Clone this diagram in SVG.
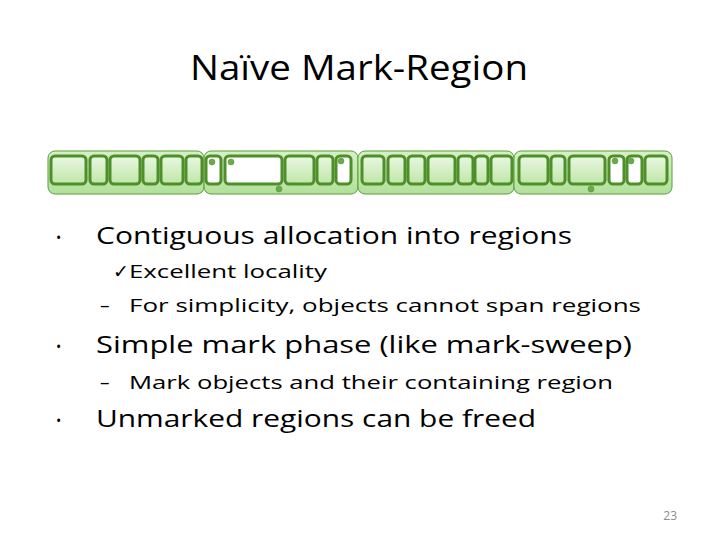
<svg xmlns="http://www.w3.org/2000/svg" width="720" height="540" viewBox="0 0 720 540">
<defs>
<linearGradient id="g" x1="0" y1="0" x2="0" y2="1"><stop offset="0" stop-color="#eaf7e2"/><stop offset="1" stop-color="#bfe6a8"/></linearGradient>
<linearGradient id="r" x1="0" y1="0" x2="0" y2="1"><stop offset="0" stop-color="#d6f0c6"/><stop offset="1" stop-color="#b2e09a"/></linearGradient>
</defs>
<style>
.reg{fill:url(#r);stroke:#5a9e3c;stroke-width:1}
.o{fill:url(#g);stroke:#4f8f2a;stroke-width:3}
.w{fill:#fff;stroke:#4f8f2a;stroke-width:3}
.d{fill:#6aaa4a;stroke:#4f8f2a;stroke-width:0.5}
text{font-family:"Open Sans","Liberation Sans",Arial,sans-serif;fill:#000}
.t1{font-size:24px}.t2{font-size:19px}
.b{font-size:14px}
</style>
<rect width="720" height="540" fill="#fff"/>
<text x="190" y="80" textLength="338" lengthAdjust="spacingAndGlyphs" style="font-size:34px">Naïve Mark-Region</text>
<g id="regions">
<rect class="reg" x="48" y="151" width="156" height="43" rx="7"/>
<rect class="reg" x="204" y="151" width="154" height="43" rx="7"/>
<rect class="reg" x="358" y="151" width="156" height="43" rx="7"/>
<rect class="reg" x="514" y="151" width="158" height="43" rx="7"/>
</g>
<g id="objects">
<rect class="o" x="51" y="156" width="35" height="28" rx="4"/>
<rect class="o" x="90" y="156" width="17" height="28" rx="4"/>
<rect class="o" x="110" y="156" width="30" height="28" rx="4"/>
<rect class="o" x="143" y="156" width="15" height="28" rx="4"/>
<rect class="o" x="161" y="156" width="22" height="28" rx="4"/>
<rect class="o" x="186" y="156" width="16" height="28" rx="4"/>
<rect class="w" x="206" y="156" width="15" height="28" rx="4"/>
<rect class="w" x="225" y="156" width="57" height="28" rx="4"/>
<rect class="o" x="285" y="156" width="29" height="28" rx="4"/>
<rect class="o" x="317" y="156" width="16" height="28" rx="4"/>
<rect class="w" x="336" y="156" width="15" height="28" rx="4"/>
<rect class="o" x="362" y="156" width="22" height="28" rx="4"/>
<rect class="o" x="388" y="156" width="17" height="28" rx="4"/>
<rect class="o" x="408" y="156" width="17" height="28" rx="4"/>
<rect class="o" x="428" y="156" width="27" height="28" rx="4"/>
<rect class="o" x="458" y="156" width="15" height="28" rx="4"/>
<rect class="o" x="475" y="156" width="13" height="28" rx="4"/>
<rect class="o" x="491" y="156" width="21" height="28" rx="4"/>
<rect class="o" x="519" y="156" width="29" height="28" rx="4"/>
<rect class="o" x="551" y="156" width="14" height="28" rx="4"/>
<rect class="o" x="569" y="156" width="36" height="28" rx="4"/>
<rect class="w" x="609" y="156" width="15" height="28" rx="4"/>
<rect class="w" x="627" y="156" width="15" height="28" rx="4"/>
<rect class="o" x="645" y="156" width="22" height="28" rx="4"/>
</g>
<g id="marks">
<circle class="d" cx="212" cy="162" r="3"/>
<circle class="d" cx="231" cy="162" r="3"/>
<circle class="d" cx="341" cy="161" r="3"/>
<circle class="d" cx="279" cy="189" r="3"/>
<circle class="d" cx="615" cy="161" r="3"/>
<circle class="d" cx="631" cy="161" r="3"/>
<circle class="d" cx="591" cy="189" r="3"/>
</g>
<g id="text">
<text x="56" y="243" class="b">•</text>
<text x="96" y="244" class="t1" textLength="476" lengthAdjust="spacingAndGlyphs">Contiguous allocation into regions</text>
<text x="113" y="278" class="t2">✓</text>
<text x="129" y="278" class="t2" textLength="198" lengthAdjust="spacingAndGlyphs">Excellent locality</text>
<text x="100" y="312" class="t2">–</text>
<text x="129" y="312" class="t2" textLength="512" lengthAdjust="spacingAndGlyphs">For simplicity, objects cannot span regions</text>
<text x="56" y="352" class="b">•</text>
<text x="96" y="353" class="t1" textLength="536" lengthAdjust="spacingAndGlyphs">Simple mark phase (like mark-sweep)</text>
<text x="100" y="389" class="t2">–</text>
<text x="129" y="389" class="t2" textLength="484" lengthAdjust="spacingAndGlyphs">Mark objects and their containing region</text>
<text x="56" y="426" class="b">•</text>
<text x="96" y="427" class="t1" textLength="440" lengthAdjust="spacingAndGlyphs">Unmarked regions can be freed</text>
<text x="677" y="520" text-anchor="end" style="font-size:12px;fill:#8a8a8a">23</text>
</g>
</svg>
